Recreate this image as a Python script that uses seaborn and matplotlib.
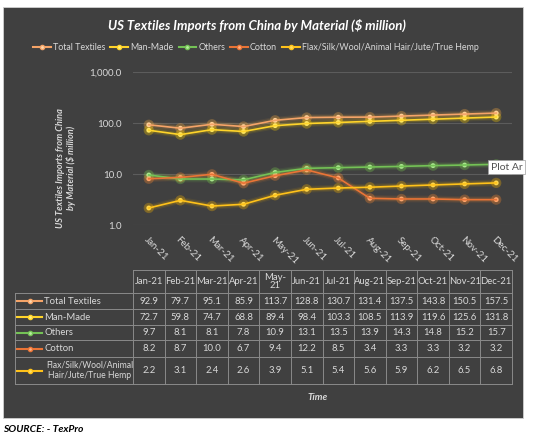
import numpy as np
import pandas as pd
import matplotlib
matplotlib.use("Agg")
import matplotlib.pyplot as plt
import seaborn as sns
from matplotlib.patches import Rectangle
from matplotlib.lines import Line2D
from matplotlib.ticker import FuncFormatter, FixedLocator, NullLocator

months = ["Jan-21", "Feb-21", "Mar-21", "Apr-21", "May-21", "Jun-21",
          "Jul-21", "Aug-21", "Sep-21", "Oct-21", "Nov-21", "Dec-21"]
series_names = ["Total Textiles", "Man-Made", "Others", "Cotton",
                "Flax/Silk/Wool/Animal Hair/Jute/True Hemp"]
total_textiles = [92.9, 79.7, 95.1, 85.9, 113.7, 128.8, 130.7, 131.4, 137.5, 143.8, 150.5, 157.5]
man_made = [72.7, 59.8, 74.7, 68.8, 89.4, 98.4, 103.3, 108.5, 113.9, 119.6, 125.6, 131.8]
others = [9.7, 8.1, 8.1, 7.8, 10.9, 13.1, 13.5, 13.9, 14.3, 14.8, 15.2, 15.7]
cotton = [8.2, 8.7, 10.0, 6.7, 9.4, 12.2, 8.5, 3.4, 3.3, 3.3, 3.2, 3.2]
flax = [2.2, 3.1, 2.4, 2.6, 3.9, 5.1, 5.4, 5.6, 5.9, 6.2, 6.5, 6.8]
values = [total_textiles, man_made, others, cotton, flax]

colors = ["#F5A468", "#FFD42A", "#74C256", "#EA7436", "#FFC21A"]
glows = ["#FFB040", "#FFD000", "#7CD050", "#FF8A30", "#FFB800"]
centers = ["#FFD9B0", "#FFF080", "#B8F0A0", "#FFB080", "#FFE060"]

rows = []
for name, vals in zip(series_names, values):
    for i, v in enumerate(vals):
        rows.append({"series": name, "idx": i, "value": v})
df = pd.DataFrame(rows)

W, H = 535, 445
fig = plt.figure(figsize=(W / 100, H / 100), dpi=100)
fig.patch.set_facecolor("white")
plt.rcParams["font.family"] = ["Lato", "DejaVu Sans"]
txt = "#D9D9D9"
bg = "#404040"

def fx(px):
    return px / W

def fy(py):
    return 1 - py / H

fig.patches.append(Rectangle((fx(3), fy(418)), fx(520), (418 - 7) / H,
                             transform=fig.transFigure, facecolor=bg,
                             edgecolor="#d0d0d0", lw=0.6, zorder=-5))

# main plot
L, R, T, B = 133, 512, 72, 225.5
ax = fig.add_axes([fx(L), fy(B), fx(R - L), (B - T) / H])
ax.set_facecolor("none")
ax.set_yscale("log")
pal = dict(zip(series_names, colors))
glow_pal = dict(zip(series_names, glows))
for lw, a in [(5, 0.08), (3.2, 0.16)]:
    sns.lineplot(data=df, x="idx", y="value", hue="series", palette=glow_pal,
                 lw=lw, alpha=a, legend=False, ax=ax)
sns.lineplot(data=df, x="idx", y="value", hue="series", palette=pal, lw=1.2,
             legend=False, ax=ax)
sns.scatterplot(data=df, x="idx", y="value", hue="series", palette=glow_pal,
                s=55, alpha=0.3, edgecolor="none", legend=False, ax=ax)
sns.scatterplot(data=df, x="idx", y="value", hue="series",
                palette=dict(zip(series_names, centers)), s=12,
                edgecolor="none", legend=False, ax=ax)
ax.set_xlim(-0.5, 11.5)
ax.set_ylim(1, 1000)
ax.yaxis.set_major_locator(FixedLocator([1, 10, 100, 1000]))
ax.yaxis.set_minor_locator(NullLocator())
ax.yaxis.set_major_formatter(FuncFormatter(lambda v, p: f"{v:,.1f}"))
ax.set_xticks(range(len(months)))
ax.set_xticklabels(months, rotation=-45, ha="left", va="top",
                   rotation_mode="anchor")
ax.tick_params(axis="both", length=0, colors=txt, labelsize=7)
ax.tick_params(axis="y", pad=8)
ax.tick_params(axis="x", pad=7)
ax.grid(axis="y", color="#5c5c5c", lw=0.8)
ax.grid(axis="x", visible=False)
ax.set_axisbelow(True)
for s in ax.spines.values():
    s.set_visible(False)
ax.set_xlabel("")
ax.set_ylabel("")

fig.text(fx(257), fy(25), "US Textiles Imports from China by Material ($ million)",
         ha="center", va="center", color="white", fontsize=9.5,
         fontweight="bold", style="italic")
fig.text(fx(66), fy(168), "US Textiles Imports from China\nby Material ($ million)",
         ha="center", va="center", rotation=90, color=txt, fontsize=6.6,
         fontweight="bold", style="italic", linespacing=1.1)

handles = [Line2D([0], [0], color=c, lw=1.5, marker="o", markersize=3,
                  markerfacecolor=cc, markeredgecolor=c)
           for c, cc in zip(colors, centers)]
leg = fig.legend(handles, series_names, loc="center",
                 bbox_to_anchor=(fx(256), fy(48)), ncol=5, frameon=False,
                 fontsize=6.4, handlelength=2.0, handletextpad=0.2,
                 columnspacing=0.6)
for t in leg.get_texts():
    t.set_color(txt)

# data table
col_w = (R - L) / 12
tab_left = 15
tab = fig.add_axes([fx(tab_left), fy(384), fx(R - tab_left), (384 - 270) / H])
x0 = -0.5 - (L - tab_left) / col_w
tab.set_xlim(x0, 11.5)
tab.set_ylim(384, 270)
tab.axis("off")
row_edges = [293, 309, 325, 340, 357, 384]
lc = "#8a8a8a"
tab.plot([-0.5, 11.5], [270, 270], color=lc, lw=0.7, clip_on=False)
for y in row_edges:
    tab.plot([x0, 11.5], [y, y], color=lc, lw=0.7, clip_on=False)
for i in range(13):
    tab.plot([i - 0.5, i - 0.5], [270, 384], color=lc, lw=0.7, clip_on=False)
tab.plot([x0, x0], [293, 384], color=lc, lw=0.7, clip_on=False)

for i, m in enumerate(months):
    lab = "May-\n21" if m == "May-21" else m
    tab.text(i, 281.5, lab, ha="center", va="center", color=txt, fontsize=6.8,
             linespacing=1.0)
row_labels = ["Total Textiles", "Man-Made", "Others", "Cotton",
              "Flax/Silk/Wool/Animal\nHair/Jute/True Hemp"]
lx0 = x0 + 2 / col_w
lx1 = x0 + 27 / col_w
for r, (lab, vals) in enumerate(zip(row_labels, values)):
    yc = (row_edges[r] + row_edges[r + 1]) / 2
    tab.plot([lx0, (lx0 + lx1) / 2, lx1], [yc, yc, yc], color=colors[r], lw=1.5,
             marker="o", markersize=3, markevery=[1], markerfacecolor=centers[r],
             markeredgecolor=colors[r], clip_on=False)
    if "\n" in lab:
        tab.text(x0 + 75 / col_w, yc, lab, ha="center", va="center", color=txt,
                 fontsize=6.2, linespacing=1.15)
    else:
        tab.text(x0 + 29 / col_w, yc, lab, ha="left", va="center", color=txt,
                 fontsize=6.8)
    for i, v in enumerate(vals):
        tab.text(i, yc, f"{v:.1f}", ha="center", va="center", color=txt,
                 fontsize=6.8)

fig.text(fx(318), fy(397), "Time", ha="center", va="center", color=txt,
         fontsize=7, fontweight="bold", style="italic")
fig.text(fx(3), fy(429), "SOURCE: - TexPro", ha="left", va="center",
         color="black", fontsize=7.5, fontweight="bold", style="italic")

fig.text(fx(491), fy(167), "Plot Ar", ha="left", va="center", color="#505050",
         fontsize=7.5, bbox=dict(boxstyle="square,pad=0.25", facecolor="white",
                                 edgecolor="#a0a0a0", lw=0.5))

fig.savefig("out.png", dpi=100, facecolor=fig.get_facecolor())
